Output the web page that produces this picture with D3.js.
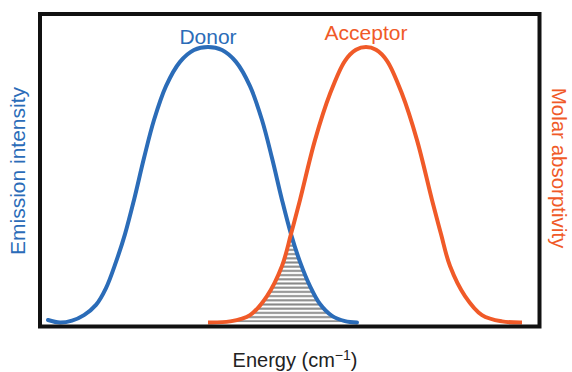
<!DOCTYPE html>
<html>
<head>
<meta charset="utf-8">
<script src="https://cdn.jsdelivr.net/npm/d3@7"></script>
<style>
  html, body { margin: 0; padding: 0; background: #fff; }
  svg { display: block; font-family: "Liberation Sans", Arial, Helvetica, sans-serif; }
</style>
</head>
<body>
<svg id="chart" width="572" height="372"></svg>
<script>
// Donor emission spectrum (energy in arbitrary units, normalised intensity)
const donorEnergy    = [8, 20, 32, 44, 56, 66, 76, 85, 94, 104, 114, 126, 140, 154, 168, 182, 196, 210, 222, 232, 242, 251, 260, 270, 280, 292, 305, 317];
const donorIntensity = [0.009, 0, 0.007, 0.027, 0.064, 0.125, 0.22, 0.321, 0.445, 0.597, 0.735, 0.858, 0.946, 0.989, 1.0, 0.989, 0.946, 0.858, 0.735, 0.597, 0.445, 0.321, 0.22, 0.132, 0.067, 0.024, 0.005, 0];

// Acceptor absorption spectrum (normalised molar absorptivity)
const acceptorEnergy = [168, 190, 210, 227, 242, 251, 260, 275, 290, 305, 316, 326, 336, 347, 362, 377, 392, 401, 410, 425, 442, 462, 482];
const acceptorAbsorb = [0, 0.004, 0.027, 0.096, 0.205, 0.321, 0.445, 0.662, 0.83, 0.95, 0.99, 1.0, 0.99, 0.95, 0.83, 0.662, 0.445, 0.321, 0.205, 0.096, 0.027, 0.004, 0];

const labels = { donor: "Donor", acceptor: "Acceptor", x: "Energy (cm", xSup: "\u22121", yLeft: "Emission intensity", yRight: "Molar absorptivity" };

const blue = "#2b6cb8";
const orange = "#f05a28";

const svg = d3.select("#chart");
const frame = { left: 40, top: 14, right: 539.5, bottom: 326.5 };

const x = d3.scaleLinear().domain([0, 500]).range([40, 540]);
const y = d3.scaleLinear().domain([0, 1]).range([322.5, 47]);

const donor = donorEnergy.map((e, i) => [e, donorIntensity[i]]);
const acceptor = acceptorEnergy.map((e, i) => [e, acceptorAbsorb[i]]);

const curve = d3.curveCatmullRom.alpha(0.5);
const line = d3.line().x(d => x(d[0])).y(d => y(d[1])).curve(curve);
const area = d3.area().x(d => x(d[0])).y0(y(0)).y1(d => y(d[1])).curve(curve);

const defs = svg.append("defs");

// horizontal hatching for the spectral overlap
const pat = defs.append("pattern")
  .attr("id", "hatch")
  .attr("patternUnits", "userSpaceOnUse")
  .attr("width", 8).attr("height", 4.2);
pat.append("rect").attr("x", 0).attr("y", 1.1).attr("width", 8).attr("height", 2).attr("fill", "#888");

defs.append("clipPath").attr("id", "clipDonor").append("path").attr("d", area(donor));
defs.append("clipPath").attr("id", "clipAcceptor").append("path").attr("d", area(acceptor));

// overlap integral = intersection of the two areas
svg.append("g").attr("clip-path", "url(#clipDonor)")
  .append("g").attr("clip-path", "url(#clipAcceptor)")
  .append("rect")
  .attr("x", frame.left).attr("y", frame.top)
  .attr("width", frame.right - frame.left).attr("height", y(0) - frame.top)
  .attr("fill", "url(#hatch)");

svg.append("path").attr("d", line(donor))
  .attr("fill", "none").attr("stroke", blue).attr("stroke-width", 4).attr("stroke-linecap", "round");
svg.append("path").attr("d", line(acceptor))
  .attr("fill", "none").attr("stroke", orange).attr("stroke-width", 4).attr("stroke-linecap", "butt");

// plot frame
svg.append("rect")
  .attr("x", frame.left).attr("y", frame.top)
  .attr("width", frame.right - frame.left).attr("height", frame.bottom - frame.top)
  .attr("fill", "none").attr("stroke", "#111").attr("stroke-width", 4);

const donorPeak = donorEnergy[d3.maxIndex(donorIntensity)];
const accPeak = acceptorEnergy[d3.maxIndex(acceptorAbsorb)];

svg.append("text").attr("x", x(donorPeak)).attr("y", 44)
  .attr("text-anchor", "middle").attr("font-size", 21).attr("fill", blue).text(labels.donor);
svg.append("text").attr("x", x(accPeak)).attr("y", 40)
  .attr("text-anchor", "middle").attr("font-size", 21).attr("fill", orange).text(labels.acceptor);

const xt = svg.append("text").attr("x", 295).attr("y", 367)
  .attr("text-anchor", "middle").attr("font-size", 20).attr("fill", "#222");
xt.append("tspan").text(labels.x);
xt.append("tspan").attr("dy", -7).attr("font-size", 14).text(labels.xSup);
xt.append("tspan").attr("dy", 7).text(")");

svg.append("text").attr("transform", "translate(25,171) rotate(-90)")
  .attr("text-anchor", "middle").attr("font-size", 21).attr("fill", blue).text(labels.yLeft);
svg.append("text").attr("transform", "translate(552,168) rotate(90)")
  .attr("text-anchor", "middle").attr("font-size", 20.5).attr("fill", orange).text(labels.yRight);
</script>
</body>
</html>
